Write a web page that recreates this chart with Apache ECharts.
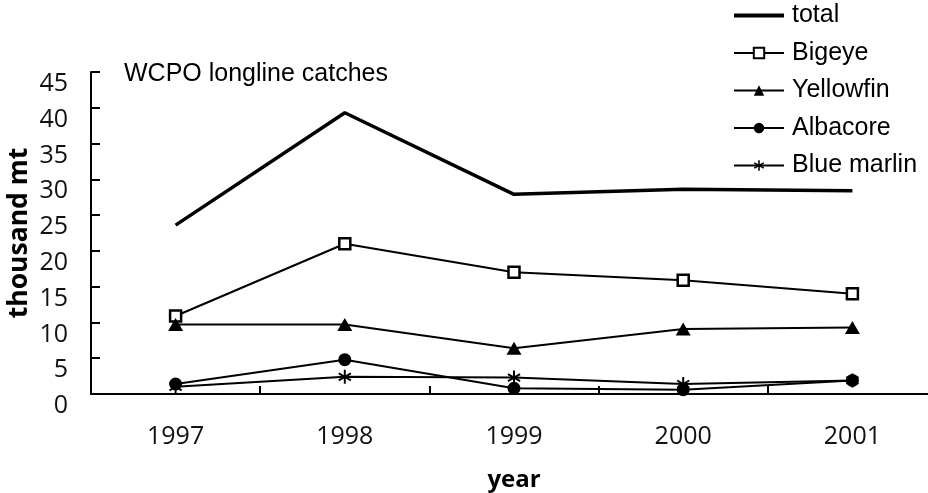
<!DOCTYPE html>
<html>
<head>
<meta charset="utf-8">
<script src="https://cdn.jsdelivr.net/npm/echarts@6/dist/echarts.min.js"></script>
<style>
  html, body { margin: 0; padding: 0; background: #ffffff; }
  #chart { width: 928px; height: 493px; }
</style>
</head>
<body>
<div id="chart"></div>
<script>
// WCPO longline catches by species, thousand mt
const years = ['1997', '1998', '1999', '2000', '2001'];
const total = [23.6, 39.3, 27.9, 28.6, 28.4];
const bigeye = [10.9, 21.0, 17.0, 15.9, 14.0];
const yellowfin = [9.7, 9.7, 6.4, 9.1, 9.3];
const albacore = [1.4, 4.8, 0.8, 0.6, 1.9];
const blueMarlin = [1.0, 2.4, 2.3, 1.4, 1.9];

const seriesNames = ['total', 'Bigeye', 'Yellowfin', 'Albacore', 'Blue marlin'];

// six-armed asterisk built from three bars
const asterisk = 'path://M-0.14,-1L0.14,-1L0.14,1L-0.14,1Z' +
  'M0.796,0.621L-0.936,-0.379L-0.796,-0.621L0.936,0.379Z' +
  'M0.936,-0.379L-0.796,0.621L-0.936,0.379L0.796,-0.621Z';

const labelFont = '"Open Sans", "Noto Sans", sans-serif';
const textFont = '"Liberation Sans", Arial, sans-serif';

function lineSeries(name, data, opts) {
  return Object.assign({
    name: name,
    type: 'line',
    data: data,
    lineStyle: { color: '#000', width: 2 },
    itemStyle: { color: '#000', borderColor: '#000', borderWidth: 0 },
    symbolSize: 12,
    z: 3
  }, opts);
}

const chart = echarts.init(document.getElementById('chart'), null, { renderer: 'canvas' });

chart.setOption({
  animation: false,
  backgroundColor: '#ffffff',
  title: {
    text: 'WCPO longline catches',
    left: 124,
    top: 62,
    padding: 0,
    textStyle: { fontFamily: textFont, fontSize: 25, fontWeight: 'normal', color: '#000' }
  },
  legend: {
    orient: 'vertical',
    left: 732,
    top: 3,
    padding: 0,
    itemWidth: 50,
    itemHeight: 13,
    itemGap: 12.5,
    data: [
      { name: 'total', itemStyle: { opacity: 0 }, lineStyle: { width: 4 } },
      'Bigeye', 'Yellowfin', 'Albacore', 'Blue marlin'
    ],
    textStyle: { fontFamily: textFont, fontSize: 25, color: '#000', padding: [0, 0, 0, 3] }
  },
  grid: { left: 91, top: 72, width: 846, height: 322, containLabel: false, outerBoundsMode: 'none' },
  xAxis: {
    type: 'category',
    data: years,
    boundaryGap: true,
    name: 'year',
    nameLocation: 'middle',
    nameGap: 74,
    nameMoveOverlap: false,
    nameTextStyle: { fontFamily: labelFont, fontSize: 24, fontWeight: 'bold', color: '#000' },
    axisLine: { lineStyle: { color: '#000', width: 2 } },
    axisTick: { show: true, inside: true, length: 8, alignWithLabel: false, lineStyle: { color: '#000', width: 2 } },
    axisLabel: { margin: 30, fontFamily: labelFont, fontSize: 25, color: '#111' },
    splitLine: { show: false }
  },
  yAxis: {
    type: 'value',
    min: 0,
    max: 45,
    interval: 5,
    name: 'thousand mt',
    nameLocation: 'middle',
    nameGap: 58,
    nameMoveOverlap: false,
    nameTextStyle: { fontFamily: labelFont, fontSize: 26.5, fontWeight: 'bold', color: '#000' },
    axisLine: { show: true, lineStyle: { color: '#000', width: 2 } },
    axisTick: { show: true, inside: true, length: 9, lineStyle: { color: '#000', width: 2 } },
    axisLabel: { margin: 23, verticalAlign: 'top', lineHeight: 24, fontFamily: labelFont, fontSize: 25, color: '#111' },
    splitLine: { show: false }
  },
  series: [
    lineSeries('total', total, { showSymbol: false, symbol: 'none', lineStyle: { color: '#000', width: 3.5 } }),
    lineSeries('Bigeye', bigeye, {
      symbol: 'rect', symbolSize: 11,
      itemStyle: { color: '#fff', borderColor: '#000', borderWidth: 2.5 }
    }),
    lineSeries('Yellowfin', yellowfin, { symbol: 'triangle', symbolSize: [15, 13] }),
    lineSeries('Albacore', albacore, { symbol: 'circle', symbolSize: 13 }),
    lineSeries('Blue marlin', blueMarlin, { symbol: asterisk, symbolSize: 14, symbolKeepAspect: true })
  ]
});
</script>
</body>
</html>
